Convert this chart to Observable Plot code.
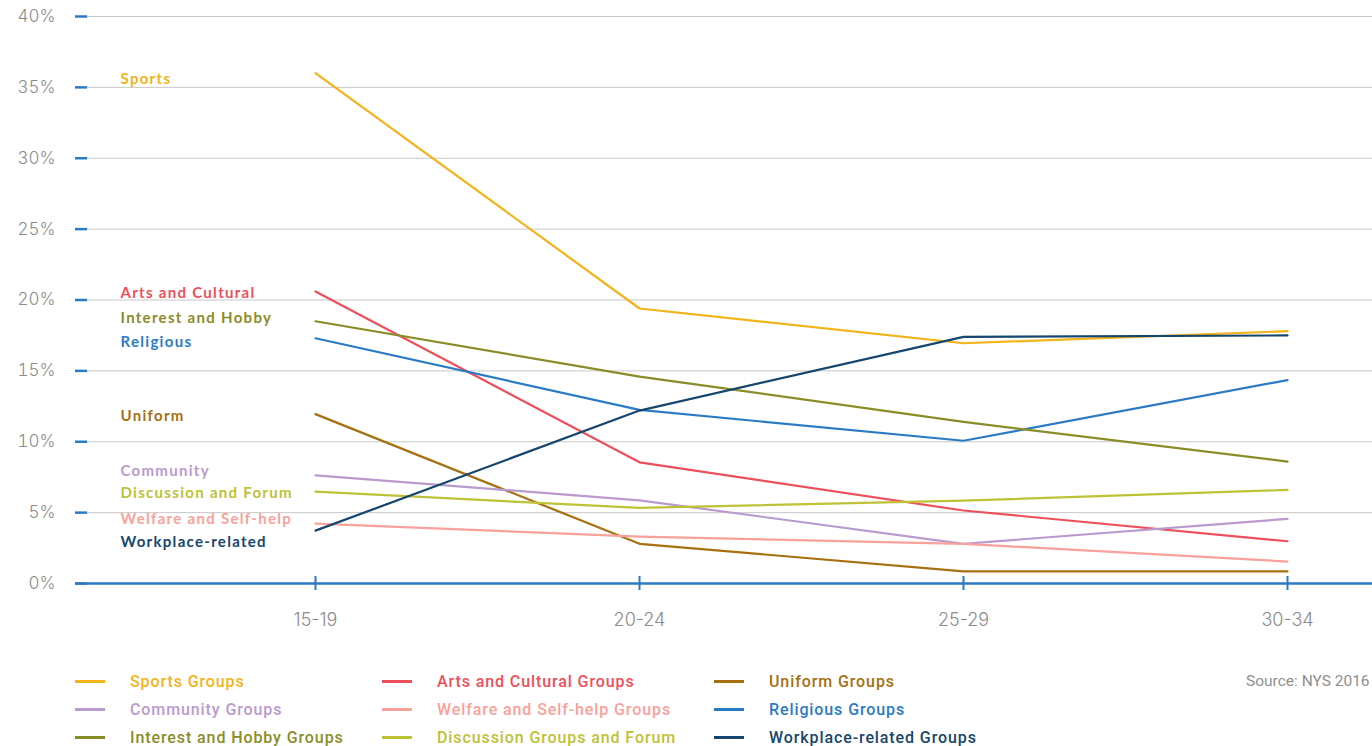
<!DOCTYPE html>
<html>
<head>
<meta charset="utf-8">
<script src="https://cdn.jsdelivr.net/npm/d3@7"></script>
<script src="https://cdn.jsdelivr.net/npm/@observablehq/plot@0.6"></script>
<style>
  html, body { margin: 0; padding: 0; background: #fff; overflow: hidden; }
  body { width: 1372px; height: 746px; position: relative; }
  #chart { position: absolute; left: 0; top: 0; }
  #legend { position: absolute; left: 75px; top: 667px; font-family: Roboto, sans-serif; font-weight: 500; font-size: 16px; letter-spacing: 0.9px; }
  .item { position: absolute; height: 28px; display: flex; align-items: center; white-space: nowrap; }
  .sw { width: 30px; height: 3px; margin-right: 25px; }
  #source { position: absolute; left: 1246px; top: 672px; font-family: Roboto, sans-serif; font-size: 15.5px; color: #8f8f8f; white-space: nowrap; }
</style>
</head>
<body>
<div id="chart"></div>
<div id="legend"></div>
<div id="source">Source: NYS 2016</div>
<script>
// ---- data ----
const ageGroups = ["15-19", "20-24", "25-29", "30-34"];
const seriesNames = ["Sports", "Arts and Cultural", "Uniform", "Community", "Welfare and Self-help", "Religious", "Interest and Hobby", "Discussion and Forum", "Workplace-related"];
const legendNames = ["Sports Groups", "Arts and Cultural Groups", "Uniform Groups", "Community Groups", "Welfare and Self-help Groups", "Religious Groups", "Interest and Hobby Groups", "Discussion Groups and Forum", "Workplace-related Groups"];
const seriesColors = ["#f2b418", "#ee4f5c", "#a6700f", "#b99acf", "#f9a19b", "#2b7bc4", "#8a8d27", "#bdc236", "#16456e"];
const sports      = [36.0, 19.4, 16.95, 17.8];
const arts        = [20.6, 8.55, 5.15, 2.98];
const uniform     = [11.95, 2.8, 0.85, 0.85];
const community   = [7.63, 5.87, 2.8, 4.56];
const welfare     = [4.23, 3.3, 2.8, 1.55];
const religious   = [17.3, 12.25, 10.07, 14.35];
const interest    = [18.5, 14.6, 11.4, 8.6];
const discussion  = [6.48, 5.33, 5.85, 6.6];
const workplace   = [3.73, 12.2, 17.4, 17.5];
// label anchor values (percent) for series labels on the left
const labelAt     = [35.6, 20.5, 11.8, 7.95, 4.55, 17.0, 18.75, 6.35, 2.9];
const yTicks = [0, 5, 10, 15, 20, 25, 30, 35, 40];

const seriesValues = [sports, arts, uniform, community, welfare, religious, interest, discussion, workplace];
const rows = [];
seriesNames.forEach((s, i) => seriesValues[i].forEach((v, j) => rows.push({series: s, age: ageGroups[j], value: v})));
const labels = seriesNames.map((s, i) => ({series: s, y: labelAt[i]}));

const blue = "#2b7bc4";
const plot = Plot.plot({
  width: 1372,
  height: 650,
  marginLeft: 87,
  marginRight: 0,
  marginTop: 16,
  marginBottom: 67,
  style: {fontFamily: "Inter, sans-serif", background: "transparent"},
  x: {type: "point", domain: ageGroups, range: [315, 1287], padding: 0},
  y: {domain: [0, 40]},
  color: {domain: seriesNames, range: seriesColors},
  marks: [
    Plot.gridY(yTicks, {stroke: "#c8c8c8", strokeOpacity: 1, strokeWidth: 1}),
    Plot.axisY(yTicks, {tickSize: 12, tickPadding: 20, stroke: blue, strokeWidth: 2.5, tickFormat: d => d + "%", fontSize: 17, fill: "#8a8a8a", label: null, fontWeight: 300}),
    Plot.ruleY([0], {stroke: blue, strokeWidth: 2.5, insetLeft: -12}),
    Plot.axisX({tickSize: 14, dy: -7, stroke: blue, strokeWidth: 2, tickFormat: () => "", label: null}),
    Plot.axisX({tickSize: 0, tickPadding: 30, fontSize: 18, fill: "#8a8a8a", label: null, fontWeight: 300}),
    Plot.line(rows, {x: "age", y: "value", z: "series", stroke: "series", strokeWidth: 2.2, curve: "linear"}),
    Plot.text(labels, {y: "y", text: "series", fill: "series", frameAnchor: "left", dx: 33, textAnchor: "start", fontSize: 15, fontWeight: 700, fontFamily: "Lato, sans-serif"})
  ]
});
document.getElementById("chart").appendChild(plot);
plot.querySelectorAll("text").forEach(t => {
  if (seriesNames.includes(t.textContent)) t.setAttribute("letter-spacing", "1.3");
});

// legend
const colX = [0, 307, 639];
const leg = document.getElementById("legend");
legendNames.forEach((name, i) => {
  const col = i % 3, row = Math.floor(i / 3);
  const d = document.createElement("div");
  d.className = "item";
  d.style.left = colX[col] + "px";
  d.style.top = (row * 28) + "px";
  d.style.color = seriesColors[i];
  d.innerHTML = `<span class="sw" style="background:${seriesColors[i]}"></span><span>${name}</span>`;
  leg.appendChild(d);
});
</script>
</body>
</html>
